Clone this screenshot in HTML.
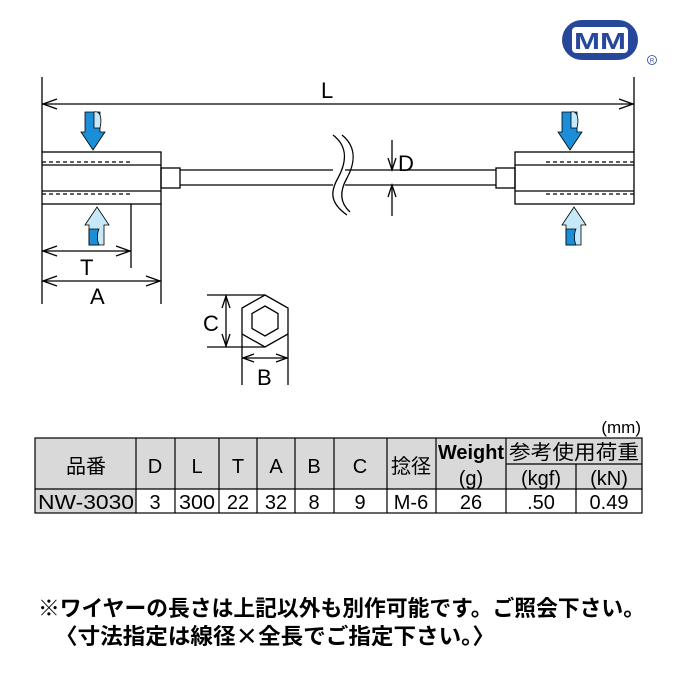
<!DOCTYPE html>
<html><head><meta charset="utf-8"><style>
html,body{margin:0;padding:0;background:#fff;}
svg{display:block;}
text{font-family:"Liberation Sans","Noto Sans CJK JP",sans-serif;fill:#000;}
.j{font-family:"Noto Sans CJK JP","WenQuanYi Zen Hei",sans-serif;}
</style></head><body>
<svg width="680" height="680" viewBox="0 0 680 680" xmlns="http://www.w3.org/2000/svg">
<!-- logo -->
<rect x="562" y="20" width="76" height="40" rx="20" fill="#27479a"/>
<rect x="572" y="27" width="56" height="26" rx="4" fill="#fff"/>
<text x="600" y="49" font-size="23" font-weight="bold" text-anchor="middle" style="fill:#27479a" textLength="52" lengthAdjust="spacingAndGlyphs">MM</text>
<circle cx="652" cy="60" r="4.5" fill="none" stroke="#27479a" stroke-width="0.8"/>
<text x="652" y="62.5" font-size="6" text-anchor="middle" style="fill:#27479a">R</text>

<g stroke="#000" stroke-width="1.3" fill="none">
<line x1="42" y1="77" x2="42" y2="152"/>
<line x1="634" y1="77" x2="634" y2="152"/>
<line x1="42" y1="104" x2="634" y2="104"/>
<polyline points="57,99 43,104 57,109"/>
<polyline points="619,99 633,104 619,109"/>
<rect x="42" y="152" width="119" height="52"/>
<line x1="42" y1="165" x2="161" y2="165"/>
<line x1="42" y1="191" x2="161" y2="191"/>
<rect x="161" y="168" width="19" height="20"/>
<line x1="180" y1="170" x2="496" y2="170"/>
<line x1="180" y1="185" x2="496" y2="185"/>
<rect x="515" y="152" width="119" height="52"/>
<line x1="515" y1="165" x2="634" y2="165"/>
<line x1="515" y1="191" x2="634" y2="191"/>
<rect x="496" y="168" width="19" height="20"/>
</g>
<g stroke="#000" stroke-width="1.3" stroke-dasharray="4,3" fill="none">
<line x1="42" y1="162" x2="130" y2="162"/>
<line x1="42" y1="194" x2="130" y2="194"/>
<line x1="546" y1="162" x2="634" y2="162"/>
<line x1="546" y1="194" x2="634" y2="194"/>
</g>
<rect x="333" y="168" width="12" height="19" fill="#fff"/>
<g stroke="#000" stroke-width="1.3" fill="none">
<path d="M333,135 C350,148 345,165 338,178 C330,192 330,203 347,215"/>
<path d="M342,135 C358,148 354,165 347,178 C339,192 340,203 350,212"/>
<line x1="392" y1="140" x2="392" y2="170"/>
<polyline points="388,158 392,170 396,158"/>
<line x1="392" y1="185" x2="392" y2="216"/>
<polyline points="388,197 392,185 396,197"/>
<line x1="131" y1="204" x2="131" y2="268"/>
<line x1="42" y1="204" x2="42" y2="304"/>
<line x1="161" y1="204" x2="161" y2="304"/>
<line x1="42" y1="251" x2="131" y2="251"/>
<polyline points="57,246 43,251 57,256"/>
<polyline points="116,246 130,251 116,256"/>
<line x1="42" y1="281" x2="161" y2="281"/>
<polyline points="57,276 43,281 57,286"/>
<polyline points="146,276 160,281 146,286"/>
<polygon points="265,295 288,308 288,334 265,347 242,334 242,308"/>
<polygon points="265,306 278,313.5 278,328.5 265,336 252,328.5 252,313.5"/>
<line x1="207" y1="295" x2="265" y2="295"/>
<line x1="207" y1="347" x2="265" y2="347"/>
<line x1="226" y1="295" x2="226" y2="347"/>
<polyline points="222,308 226,296 230,308"/>
<polyline points="222,334 226,346 230,334"/>
<line x1="242" y1="334" x2="242" y2="385"/>
<line x1="288" y1="334" x2="288" y2="385"/>
<line x1="242" y1="358" x2="288" y2="358"/>
<polyline points="254,354 243,358 254,362"/>
<polyline points="276,354 287,358 276,362"/>
</g>
<g font-size="22">
<text x="321" y="98">L</text>
<text x="398" y="171">D</text>
<text x="80" y="275">T</text>
<text x="90" y="304">A</text>
<text x="203" y="331">C</text>
<text x="257" y="385">B</text>
</g>
<defs>
<g id="dn">
<path d="M-8,-38 L7,-38 L7,-18 L12,-18 L0,0 L-12,-18 L-8,-18Z" fill="#1a8fd8" stroke="#000" stroke-width="0.8"/>
<path d="M1,-38 C8,-40 9,-30 7,-22 L1,-22Z" fill="#c7e8f8" stroke="#000" stroke-width="0.8"/>
</g>
<g id="up">
<path d="M-8,38 L7,38 L7,18 L12,18 L0,0 L-12,18 L-8,18Z" fill="#c7e8f8" stroke="#000" stroke-width="0.8"/>
<path d="M-8,38 L2,38 C0,34 0,26 2,22 L-8,22Z" fill="#1a8fd8" stroke="#000" stroke-width="0.8"/>
</g>
</defs>
<use href="#dn" x="93" y="150"/>
<use href="#up" x="97" y="207"/>
<use href="#dn" x="570" y="150"/>
<use href="#up" x="574" y="207"/>

<text x="641" y="433" font-size="17" text-anchor="end">(mm)</text>
<g fill="#d9d9d9">
<rect x="35" y="438" width="607" height="51"/>
<rect x="35" y="489" width="101" height="24"/>
</g>
<g stroke="#000" stroke-width="1.2" fill="none">
<rect x="35" y="438" width="607" height="75"/>
<line x1="35" y1="489" x2="642" y2="489"/>
<line x1="506" y1="464" x2="642" y2="464"/>
<line x1="136" y1="438" x2="136" y2="513"/>
<line x1="175" y1="438" x2="175" y2="513"/>
<line x1="219" y1="438" x2="219" y2="513"/>
<line x1="257" y1="438" x2="257" y2="513"/>
<line x1="295" y1="438" x2="295" y2="513"/>
<line x1="334" y1="438" x2="334" y2="513"/>
<line x1="387" y1="438" x2="387" y2="513"/>
<line x1="436" y1="438" x2="436" y2="513"/>
<line x1="506" y1="438" x2="506" y2="513"/>
<line x1="576" y1="464" x2="576" y2="513"/>
</g>
<g font-size="20" text-anchor="middle">
<text class="j" x="86" y="473">品番</text>
<text x="155" y="473">D</text>
<text x="197" y="473">L</text>
<text x="238" y="473">T</text>
<text x="276" y="473">A</text>
<text x="314" y="473">B</text>
<text x="360" y="473">C</text>
<text class="j" x="411" y="473">捻径</text>
<text x="471" y="459" font-weight="bold" textLength="66" lengthAdjust="spacingAndGlyphs">Weight</text>
<text x="471" y="485">(g)</text>
<text class="j" x="574" y="459" textLength="130" lengthAdjust="spacingAndGlyphs">参考使用荷重</text>
<text x="541" y="485">(kgf)</text>
<text x="609" y="485">(kN)</text>
<text x="86" y="509" textLength="96" lengthAdjust="spacingAndGlyphs">NW-3030</text>
<text x="155" y="509">3</text>
<text x="197" y="509" textLength="36" lengthAdjust="spacingAndGlyphs">300</text>
<text x="238" y="509">22</text>
<text x="276" y="509">32</text>
<text x="314" y="509">8</text>
<text x="360" y="509">9</text>
<text x="411" y="509">M-6</text>
<text x="471" y="509">26</text>
<text x="541" y="509">.50</text>
<text x="609" y="509">0.49</text>
</g>
<text class="j" x="38" y="616" font-size="22" font-weight="bold" textLength="607" lengthAdjust="spacingAndGlyphs">※ワイヤーの長さは上記以外も別作可能です。ご照会下さい。</text>
<text class="j" x="55" y="644" font-size="22" font-weight="bold" textLength="440" lengthAdjust="spacingAndGlyphs">〈寸法指定は線径×全長でご指定下さい。〉</text>
</svg>
</body></html>
